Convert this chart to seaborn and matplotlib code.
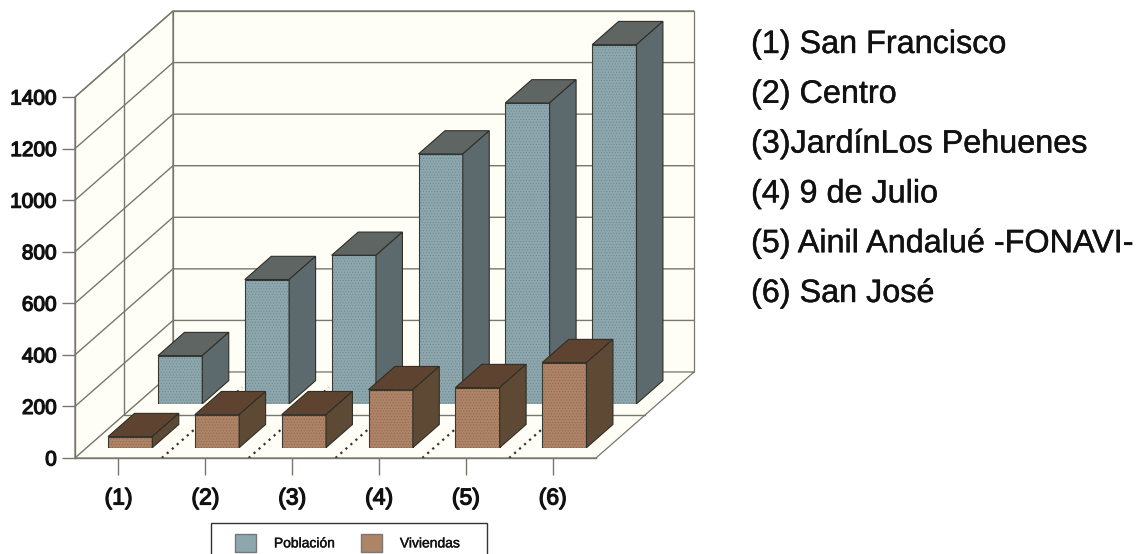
from __future__ import annotations

import matplotlib
matplotlib.use("Agg")
import matplotlib.patheffects as pe
import matplotlib.pyplot as plt
import pandas as pd
import seaborn as sns
from matplotlib.patches import Patch, Polygon, Rectangle
from matplotlib.transforms import IdentityTransform


CATEGORIES = ["(1)", "(2)", "(3)", "(4)", "(5)", "(6)"]
POBLACION = [187, 482, 576, 969, 1167, 1393]
VIVIENDAS = [43, 128, 128, 225, 233, 330]
Y_TICKS = [0, 200, 400, 600, 800, 1000, 1200, 1400]
BARRIOS = [
    "(1) San Francisco",
    "(2) Centro",
    "(3)JardínLos Pehuenes",
    "(4) 9 de Julio",
    "(5) Ainil Andalué -FONAVI-",
    "(6) San José",
]

FIG_W, FIG_H = 1142, 554
FRONT = (75, 97, 521, 361)  # left, top, width, height of the front plane, px
DEPTH = (98, 86)  # px offset from the front plane to the back wall
BAR_DEPTH = 0.27
WALL = "#fffef6"
LINE = "#77776c"
INK = "#111111"
BLUE = "#8ca7ae"
BROWN = "#ae8366"
HEAVY = [pe.withStroke(linewidth=0.9, foreground=INK)]
SLIGHT = [pe.withStroke(linewidth=0.3, foreground=INK)]

sns.set_theme(style="white")
plt.rcParams["font.family"] = ["Liberation Sans", "DejaVu Sans"]
plt.rcParams["hatch.linewidth"] = 0.5


def plane(fig, depth, zorder):
    left, top, width, height = FRONT
    x0 = left + DEPTH[0] * depth
    y0 = FIG_H - (top + height) + DEPTH[1] * depth
    ax = fig.add_axes([x0 / FIG_W, y0 / FIG_H, width / FIG_W, height / FIG_H], zorder=zorder)
    ax.patch.set_alpha(0)
    return ax


def finish_plane(ax):
    ax.set_xlim(-0.5, 5.5)
    ax.set_ylim(0, 1400)
    ax.set_xlabel("")
    ax.set_ylabel("")


def poly(ax, points, face, edge=LINE, lw=0.9, zorder=1):
    ax.add_artist(Polygon(points, closed=True, facecolor=face, edgecolor=edge, linewidth=lw,
                          transform=IdentityTransform(), clip_on=False, zorder=zorder))


def line(ax, points, color=LINE, lw=1.0, ls="-", zorder=1.5):
    xs, ys = zip(*points)
    ax.plot(xs, ys, color=color, lw=lw, ls=ls, transform=IdentityTransform(),
            clip_on=False, zorder=zorder, scalex=False, scaley=False)


def draw_frame(ax):
    to_px = ax.transData.transform
    dx, dy = DEPTH

    def at(x, y, depth=0.0):
        px, py = to_px((x, y))
        return (px + dx * depth, py + dy * depth)

    left, right = -0.5, 5.5
    poly(ax, [at(left, 0), at(left, 0, 1), at(left, 1400, 1), at(left, 1400)], WALL, zorder=0.5)
    poly(ax, [at(left, 0, 1), at(right, 0, 1), at(right, 1400, 1), at(left, 1400, 1)], WALL, zorder=0.5)
    poly(ax, [at(left, 0), at(right, 0), at(right, 0, 1), at(left, 0, 1)], WALL, zorder=0.5)

    for value in Y_TICKS[1:]:
        line(ax, [at(left, value), at(left, value, 1), at(right, value, 1)])
    # divider half way down the floor and up the side wall
    line(ax, [at(left, 1400, 0.5), at(left, 0, 0.5), at(right, 0, 0.5)])
    # dotted category dividers on the floor
    for i in range(5):
        line(ax, [at(i + 0.5, 0), at(i + 0.5, 0, 0.82)], color="#333333", lw=1.6, ls=(0, (1, 2)))


def draw_bars(ax, values, face, top, side):
    frame = pd.DataFrame({"barrio": CATEGORIES, "valor": values})
    sns.barplot(data=frame, x="barrio", y="valor", color=face, saturation=1, width=0.51,
                edgecolor="#3c3c34", linewidth=0.8, ax=ax, zorder=3)
    finish_plane(ax)
    ax.axis("off")
    dx, dy = DEPTH[0] * BAR_DEPTH, DEPTH[1] * BAR_DEPTH
    for bar in list(ax.patches):
        (x0, y0), (x1, y1) = ax.transData.transform([bar.get_xy(), (bar.get_x() + bar.get_width(), bar.get_height())])
        poly(ax, [(x0, y1), (x1, y1), (x1 + dx, y1 + dy), (x0 + dx, y1 + dy)], top, "#2f2f28", 0.8, 4)
        poly(ax, [(x1, y0), (x1 + dx, y0 + dy), (x1 + dx, y1 + dy), (x1, y1)], side, "#2f2f28", 0.8, 4)
        # scanned print look: fine dither over the front face
        ax.add_patch(Rectangle(bar.get_xy(), bar.get_width(), bar.get_height(), facecolor="none",
                               edgecolor=(0, 0, 0, 0.16), linewidth=0, hatch="......", zorder=3.5))


fig = plt.figure(figsize=(FIG_W / 100, FIG_H / 100), dpi=100, facecolor="white")

base = plane(fig, 0, 1)
finish_plane(base)
sns.despine(ax=base, top=True, right=True)
for spine in ("left", "bottom"):
    base.spines[spine].set_color(LINE)
    base.spines[spine].set_linewidth(1.0)
base.set_xticks(range(len(CATEGORIES)), CATEGORIES)
base.set_yticks(Y_TICKS)
base.tick_params(axis="y", length=9.5, width=1.0, color=LINE, labelsize=15, labelcolor=INK, pad=3.5, left=True)
base.tick_params(axis="x", length=12, width=1.0, color=LINE, labelsize=16.5, labelcolor=INK, pad=8.5, bottom=True)
fig.canvas.draw()
for label in base.get_xticklabels() + base.get_yticklabels():
    label.set_path_effects(HEAVY)
draw_frame(base)

draw_bars(plane(fig, 0.63, 2), POBLACION, BLUE, "#5f6563", "#5d6a6d")
draw_bars(plane(fig, 0.12, 3), VIVIENDAS, BROWN, "#5d4330", "#5e4935")

# legend frame runs off the bottom of the picture
fig.add_artist(Rectangle((211, -10), 276, 10 + FIG_H - 523, facecolor="white", edgecolor="#333333",
                         linewidth=1.0, transform=IdentityTransform()))
handles = [Patch(facecolor=BLUE, edgecolor="#777777", label="Población"),
           Patch(facecolor=BROWN, edgecolor="#777777", label="Viviendas")]
legend = fig.legend(handles=handles, ncol=2, loc="lower left", bbox_to_anchor=(235 / FIG_W, 2 / FIG_H),
                    frameon=False, fontsize=10, labelcolor=INK,
                    handlelength=1.5, handleheight=1.65, handletextpad=1.3, columnspacing=1.87,
                    borderpad=0, borderaxespad=0)
legend.set_zorder(5)
for text in legend.get_texts():
    text.set_path_effects(SLIGHT)

for i, name in enumerate(BARRIOS):
    fig.text(751 / FIG_W, 1 - (45 + i * 49.8) / FIG_H, name, fontsize=23.3, color=INK, va="center", ha="left",
             path_effects=SLIGHT)

fig.savefig("out.png", dpi=100)
